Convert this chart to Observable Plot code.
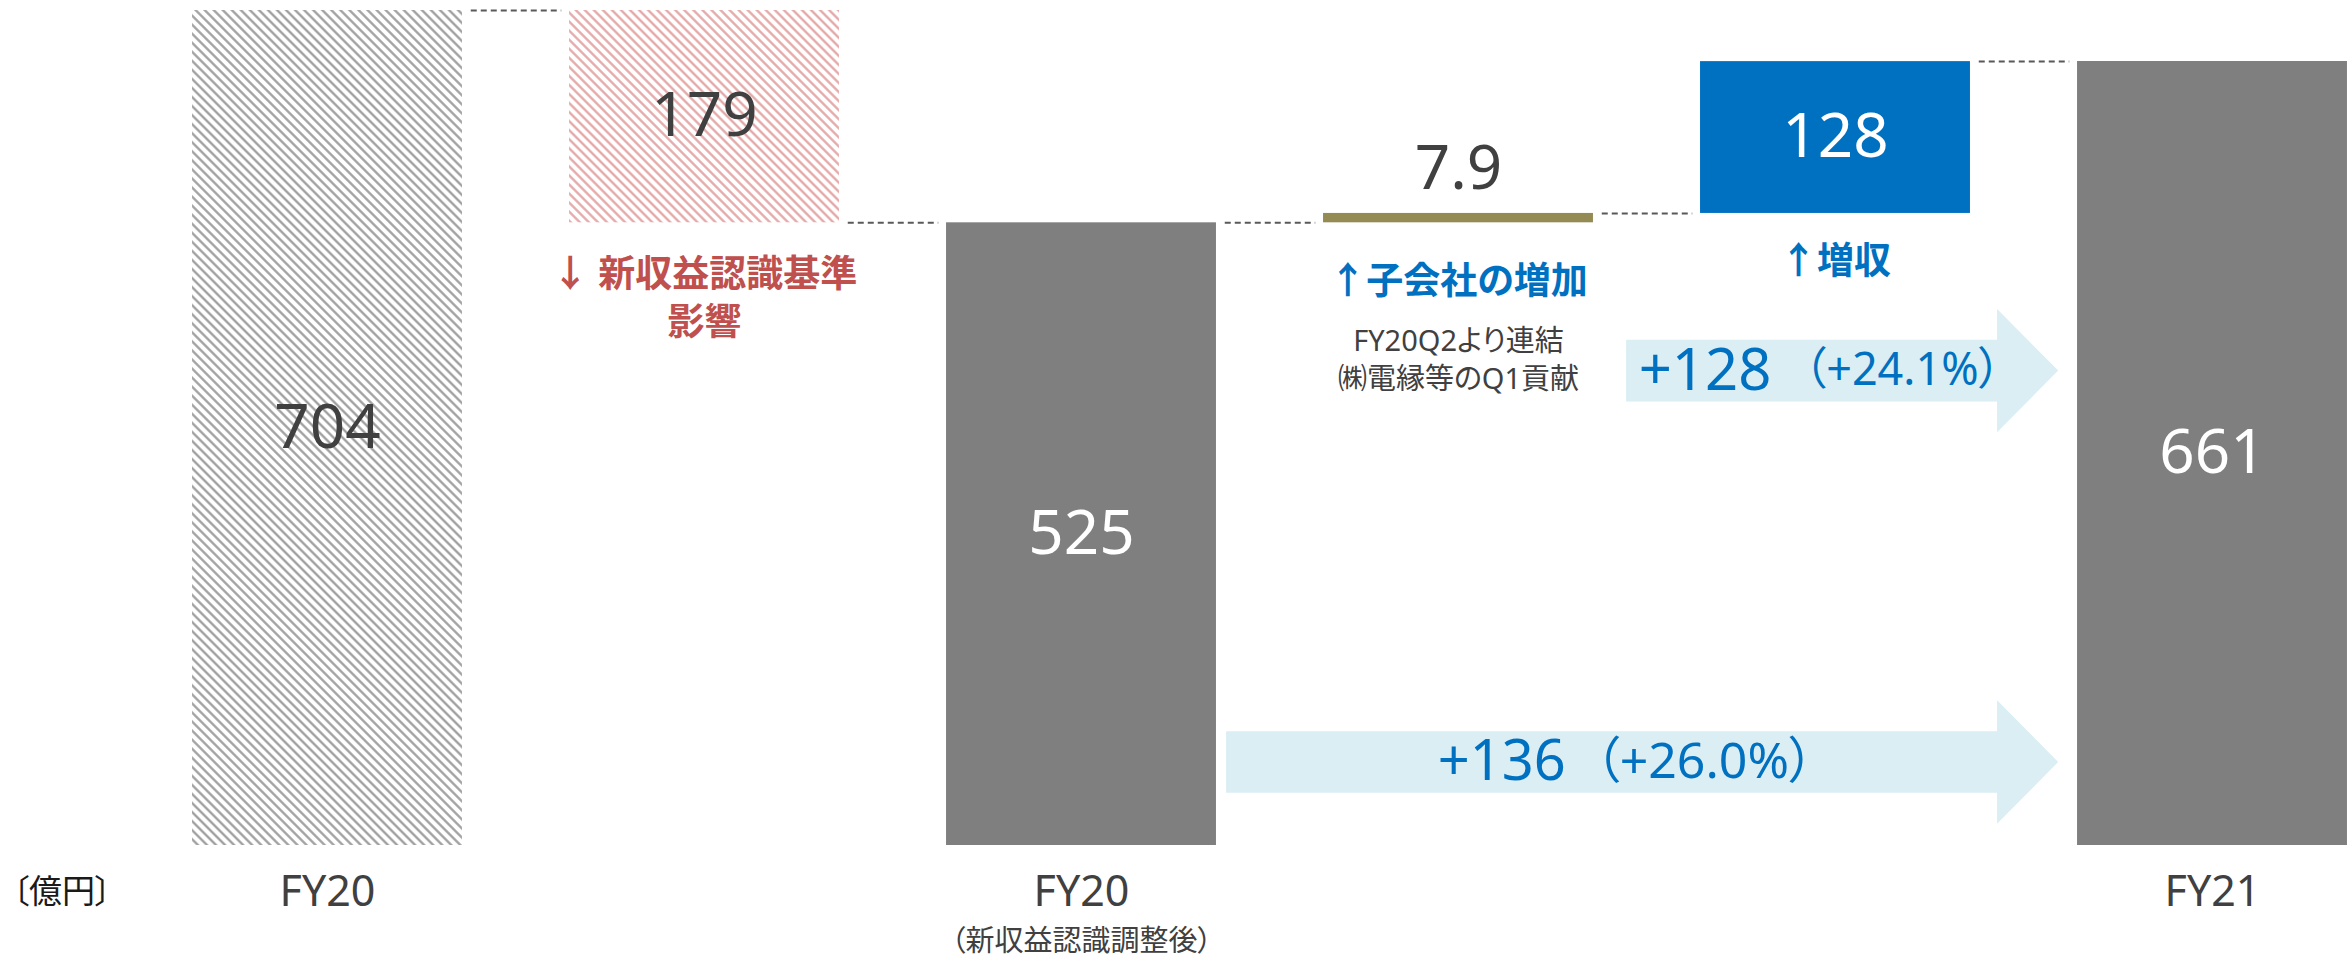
<!DOCTYPE html>
<html lang="ja">
<head>
<meta charset="utf-8">
<script src="https://cdn.jsdelivr.net/npm/d3@7"></script>
<script src="https://cdn.jsdelivr.net/npm/@observablehq/plot@0.6"></script>
<style>
  html, body { margin: 0; padding: 0; background: #fff; }
</style>
</head>
<body>
<div id="chart"></div>
<script>
// ---------------- data ----------------
const categories = ["FY20", "新収益認識基準影響", "FY20（新収益認識調整後）", "子会社の増加", "増収", "FY21"];
const kinds = ["total", "delta", "total", "delta", "delta", "total"];
const values = [704, -179, 525, 7.9, 128, 661];
const valueLabels = ["704", "179", "525", "7.9", "128", "661"];
const tickLabels = ["FY20", "", "FY20", "", "", "FY21"];
const tickSubLabels = ["", "", "（新収益認識調整後）", "", "", ""];
const notes = ["", "↓ 新収益認識基準\n影響", "", "↑子会社の増加", "↑増収", ""];
const subNotes = ["", "", "", "FY20Q2より連結\n㈱電縁等のQ1貢献", "", ""];
const arrowFrom = [2, 3];
const arrowTo = [5, 5];
const arrowLabels = ["+136", "+128"];
const arrowPercents = ["（+26.0%）", "（+24.1%）"];
const unitLabel = "〔億円〕";

// ---------------- layout & styles ----------------
const W = 2351, H = 957;
const FONT = '"Noto Sans", "Noto Sans CJK JP", sans-serif';
const DARK = "#404040";
const barHalf = 0.358;
const barFills = ["url(#hatchGray)", "url(#hatchRed)", "#7f7f7f", "#948a54", "#0070c0", "#7f7f7f"];
const valueColors = ["#404040", "#404040", "#ffffff", "#404040", "#ffffff", "#ffffff"];
const noteColors = ["", "#c0504d", "", "#0070c0", "#0070c0", ""];
const noteDy = [0, 73, 0, 56, 45, 0];
const arrowLayout = [
  {level: 70, gap: 0.027, mainDx: 211, mainSize: 56, pctDx: 368, pctSize: 50},
  {level: 400, gap: 0.088, mainDx: 12, mainSize: 58, pctDx: 177, pctSize: 45}
];
const arrowTipGap = 0.05, arrowHead = 0.162, arrowBodyHalf = 26, arrowHeadHalf = 52;

// ---------------- waterfall ----------------
let running = 0;
const rows = categories.map((c, i) => {
  const from = kinds[i] === "total" ? 0 : running;
  const to = kinds[i] === "total" ? values[i] : running + values[i];
  running = to;
  return {i, c, lo: Math.min(from, to), hi: Math.max(from, to), end: to,
          label: valueLabels[i], tick: tickLabels[i], sub: tickSubLabels[i],
          note: notes[i], subNote: subNotes[i]};
});
const connectors = rows.slice(0, -1).map(r => ({i: r.i, level: r.end}));

const arrowPts = arrowFrom.flatMap((f, k) => {
  const L = arrowLayout[k];
  const s = f + barHalf + L.gap;
  const t = arrowTo[k] - barHalf - arrowTipGap;
  const b = t - arrowHead;
  const c = L.level;
  return [
    {k, x: s, y1: c - arrowBodyHalf, y2: c + arrowBodyHalf},
    {k, x: b, y1: c - arrowBodyHalf, y2: c + arrowBodyHalf},
    {k, x: b, y1: c - arrowHeadHalf, y2: c + arrowHeadHalf},
    {k, x: t, y1: c, y2: c}
  ];
});
const arrowRows = arrowFrom.map((f, k) => ({
  k, x: f + barHalf + arrowLayout[k].gap, y: arrowLayout[k].level,
  label: arrowLabels[k], pct: arrowPercents[k]
}));

// ---------------- marks ----------------
const marks = [
  Plot.areaY(arrowPts, {x: "x", y1: "y1", y2: "y2", z: "k", fill: "#daeef3", curve: "linear"}),
  ...rows.map(r => Plot.rect([r], {
    x1: d => d.i - barHalf, x2: d => d.i + barHalf, y1: "lo", y2: "hi", fill: barFills[r.i]
  })),
  Plot.link(connectors, {
    x1: d => d.i + barHalf + 0.022, x2: d => d.i + 1 - barHalf - 0.022,
    y1: "level", y2: "level", stroke: "#595959", strokeWidth: 2, strokeDasharray: "6,4"
  }),
  // value labels
  ...rows.map(r => {
    const small = (r.hi - r.lo) < 40;
    return Plot.text([r], {
      x: "i", y: d => small ? d.hi : (d.lo + d.hi) / 2, dy: small ? -44 : 0,
      text: "label", fontSize: 62, fill: valueColors[r.i], lineAnchor: "middle"
    });
  }),
  // notes under delta bars
  ...rows.filter(r => r.note).map(r => Plot.text([r], {
    x: "i", y: "lo", dy: noteDy[r.i], text: "note", fontSize: 37, fontWeight: "bold",
    fill: noteColors[r.i], lineAnchor: "middle", lineHeight: 1.28
  })),
  ...rows.filter(r => r.subNote).map(r => Plot.text([r], {
    x: "i", y: "lo", dy: 135, text: "subNote", fontSize: 29,
    fill: DARK, lineAnchor: "middle", lineHeight: 1.3
  })),
  // arrow labels
  ...arrowRows.flatMap(r => [
    Plot.text([r], {x: "x", y: "y", text: "label", dx: arrowLayout[r.k].mainDx, textAnchor: "start",
      lineAnchor: "middle", fontSize: arrowLayout[r.k].mainSize, fill: "#0070c0"}),
    Plot.text([r], {x: "x", y: "y", text: "pct", dx: arrowLayout[r.k].pctDx, textAnchor: "start",
      lineAnchor: "middle", fontSize: arrowLayout[r.k].pctSize, fill: "#0070c0"})
  ]),
  // category labels
  Plot.text(rows.filter(r => r.tick), {x: "i", text: "tick", frameAnchor: "bottom", dy: 47,
    lineAnchor: "middle", fontSize: 43, fill: DARK}),
  Plot.text(rows.filter(r => r.sub), {x: "i", text: "sub", frameAnchor: "bottom", dy: 96,
    lineAnchor: "middle", fontSize: 29, fill: DARK}),
  Plot.text([unitLabel], {text: d => d, frameAnchor: "bottom-left", dx: 12, dy: 47,
    textAnchor: "start", lineAnchor: "middle", fontSize: 33, fill: "#1a1a1a"})
];

const svg = Plot.plot({
  width: W,
  height: H,
  marginTop: 10,
  marginBottom: 112,
  marginLeft: 0,
  marginRight: 0,
  x: {type: "linear", domain: [-327 / 377, (W - 327) / 377], axis: null},
  y: {domain: [0, d3.max(rows, d => d.hi)], axis: null},
  style: `font-family: ${FONT}; font-feature-settings: "palt"; background: #fff; overflow: visible;`,
  marks
});

const defs = document.createElementNS("http://www.w3.org/2000/svg", "defs");
defs.innerHTML = `
  <pattern id="hatchGray" patternUnits="userSpaceOnUse" width="6.4" height="6.4" patternTransform="rotate(-45)">
    <rect width="6.4" height="6.4" fill="#ffffff"/>
    <line x1="3.2" y1="0" x2="3.2" y2="6.4" stroke="#9a9a9a" stroke-width="2.2"/>
  </pattern>
  <pattern id="hatchRed" patternUnits="userSpaceOnUse" width="6.4" height="6.4" patternTransform="rotate(-45)">
    <rect width="6.4" height="6.4" fill="#ffffff"/>
    <line x1="3.2" y1="0" x2="3.2" y2="6.4" stroke="#e3a3a3" stroke-width="2.2"/>
  </pattern>`;
svg.insertBefore(defs, svg.firstChild);
document.getElementById("chart").appendChild(svg);
</script>
</body>
</html>
